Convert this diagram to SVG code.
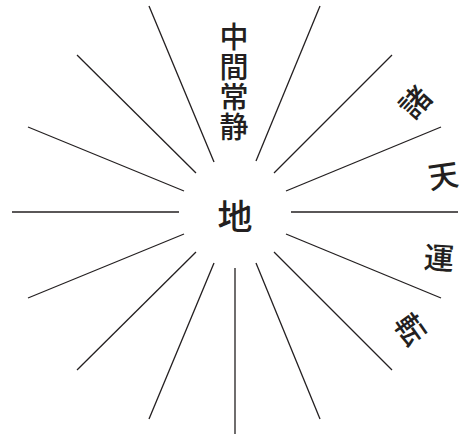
<svg xmlns="http://www.w3.org/2000/svg" width="464" height="438" viewBox="0 0 464 438">
<style>
.ray{stroke:#231f20;stroke-width:1.3;fill:none}
.t{font-family:"Noto Sans CJK JP","Noto Sans CJK SC",sans-serif;font-weight:500;fill:#231f20;text-anchor:middle;dominant-baseline:central}
.v{font-family:"Noto Sans CJK JP","Noto Sans CJK SC",sans-serif;font-weight:500;fill:#231f20;writing-mode:vertical-rl;font-size:29px;letter-spacing:1.3px;dominant-baseline:central}
.s30{font-size:30px}
.s34{font-size:35px}
</style>
<rect width="464" height="438" fill="#ffffff"/>
<g id="connectors">
<line class="ray" x1="179" y1="212" x2="12" y2="212"/>
<line class="ray" x1="291" y1="212" x2="458" y2="212"/>
<line class="ray" x1="235" y1="268" x2="235" y2="434"/>
<line class="ray" x1="214" y1="162" x2="149" y2="6"/>
<line class="ray" x1="196" y1="173" x2="77" y2="55"/>
<line class="ray" x1="184" y1="191" x2="28" y2="127"/>
<line class="ray" x1="256" y1="161" x2="320" y2="6"/>
<line class="ray" x1="274" y1="173" x2="392" y2="55"/>
<line class="ray" x1="286" y1="191" x2="441" y2="127"/>
<line class="ray" x1="184" y1="234" x2="28" y2="298"/>
<line class="ray" x1="196" y1="252" x2="77" y2="370"/>
<line class="ray" x1="214" y1="263" x2="149" y2="419"/>
<line class="ray" x1="286" y1="234" x2="441" y2="298"/>
<line class="ray" x1="274" y1="252" x2="392" y2="370"/>
<line class="ray" x1="256" y1="263" x2="320" y2="419"/>
</g>
<g id="center">
<text class="t s34" x="235" y="214">地</text>
</g>
<g id="vertical-label">
<text class="v" x="234" y="22">中間常静</text>
</g>
<g id="arc-label">
<text class="t s30" transform="translate(414,101) rotate(-48)">諸</text>
<text class="t s30" transform="translate(443,174) rotate(-8)">天</text>
<text class="t s30" transform="translate(439,256) rotate(4)">運</text>
<text class="t s30" transform="translate(412,328) rotate(55)">転</text>
</g>
</svg>
